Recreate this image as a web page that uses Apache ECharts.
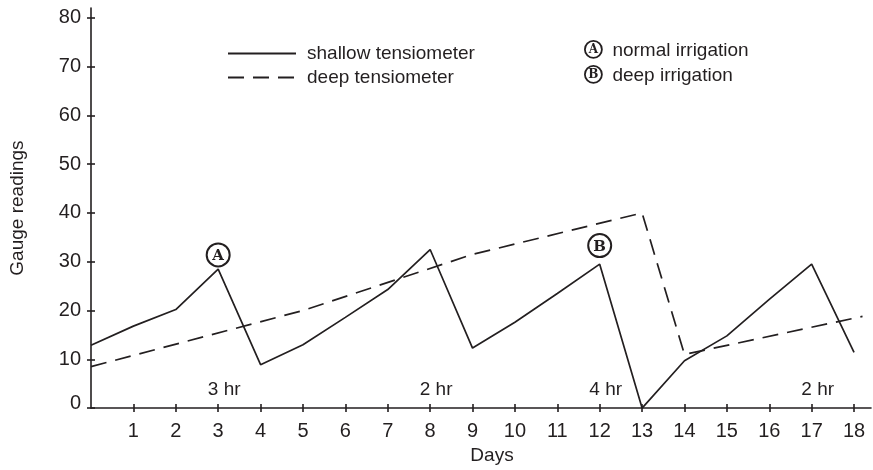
<!DOCTYPE html>
<html>
<head>
<meta charset="utf-8">
<script src="https://cdn.jsdelivr.net/npm/echarts@6/dist/echarts.min.js"></script>
<style>
html, body { margin: 0; padding: 0; background: #fff; }
#chart { width: 873px; height: 470px; }
</style>
</head>
<body>
<div id="chart"></div>
<script>
// data
var days = [0, 1, 2, 3, 4, 5, 6, 7, 8, 9, 10, 11, 12, 13, 14, 15, 16, 17, 18];
var shallowValues = [12.9, 16.8, 20.2, 28.5, 8.9, 13, 18.6, 24.3, 32.5, 12.3, 17.6, 23.5, 29.5, 0, 9.7, 14.8, 22.3, 29.5, 11.4];
var deepDays = [0, 5, 9, 13, 14, 18.2];
var deepValues = [8.5, 20, 31.5, 40, 11, 18.8];
var xTicks = [1, 2, 3, 4, 5, 6, 7, 8, 9, 10, 11, 12, 13, 14, 15, 16, 17, 18];
var yTicks = [0, 10, 20, 30, 40, 50, 60, 70, 80];
var hourDays = [3, 8, 12, 17];
var hourValues = [3.7, 3.7, 3.7, 3.7];
var hourLabels = ['3 hr', '2 hr', '4 hr', '2 hr'];
var markerDays = [3, 12];
var markerValues = [31.4, 33.3];
var markerLetters = ['A', 'B'];
var markerNames = ['normal irrigation', 'deep irrigation'];

var ink = '#231f20';
var font = 'Liberation Sans';
var letterFont = 'DejaVu Serif';

function pairs(xs, ys) {
    var out = [];
    for (var i = 0; i < xs.length; i++) out.push([xs[i], ys[i]]);
    return out;
}

var myChart = echarts.init(document.getElementById('chart'));

// two copies of each axis so the ticks cross the axis line
function xAxisOf(inside) {
    return {
        type: 'value', min: 0, max: 18.4, position: 'bottom',
        splitLine: { show: false },
        axisLine: { show: !inside, lineStyle: { color: ink, width: 1.6 } },
        axisTick: { show: true, inside: inside, length: 4, customValues: xTicks, lineStyle: { color: ink, width: 1.6 } },
        axisLabel: { show: !inside, customValues: xTicks, margin: 13, color: ink, fontFamily: font, fontSize: 20 },
        name: inside ? '' : 'Days',
        nameLocation: 'middle',
        nameGap: 37,
        nameTextStyle: { color: ink, fontFamily: font, fontSize: 19, padding: [0, 0, 0, 22] }
    };
}
function yAxisOf(inside) {
    return {
        type: 'value', min: 0, max: 82, position: 'left',
        splitLine: { show: false },
        axisLine: { show: !inside, lineStyle: { color: ink, width: 1.6 } },
        axisTick: { show: true, inside: inside, length: 4, customValues: yTicks, lineStyle: { color: ink, width: 1.6 } },
        axisLabel: {
            show: !inside, customValues: yTicks, margin: 10, color: ink, fontFamily: font, fontSize: 20,
            // the 0 sits a little high in the original
            formatter: function (v) { return v === 0 ? '{z|0}' : String(v); },
            rich: { z: { color: ink, fontFamily: font, fontSize: 20, padding: [0, 0, 10, 0] } }
        },
        name: inside ? '' : 'Gauge readings',
        nameLocation: 'middle',
        nameGap: 64,
        nameTextStyle: { color: ink, fontFamily: font, fontSize: 19 }
    };
}

option = {
    animation: false,
    backgroundColor: '#fff',
    grid: { left: 91, right: 2, top: 8, bottom: 59, containLabel: false },
    xAxis: [xAxisOf(false), xAxisOf(true)],
    yAxis: [yAxisOf(false), yAxisOf(true)],
    legend: {
        data: ['shallow tensiometer', 'deep tensiometer'],
        orient: 'vertical',
        left: 222,
        top: 39,
        itemWidth: 68,
        itemHeight: 14,
        itemGap: 5,
        selectedMode: false,
        itemStyle: { opacity: 0 },
        textStyle: { color: ink, fontFamily: font, fontSize: 19, padding: [0, 0, 0, 6] }
    },
    graphic: [
        // A / B key, top right
        {
            type: 'group', left: 584, top: 40,
            children: [
                { type: 'circle', shape: { cx: 9, cy: 9, r: 8.5 }, style: { fill: '#fff', stroke: ink, lineWidth: 1.8 } },
                { type: 'text', x: 9, y: 9.5, style: { text: markerLetters[0], fill: ink, font: 'bold 12px "' + letterFont + '"', align: 'center', verticalAlign: 'middle' } },
                { type: 'text', x: 28, y: 10, style: { text: markerNames[0], fill: ink, font: '19px "Liberation Sans"', verticalAlign: 'middle' } },
                { type: 'circle', shape: { cx: 9, cy: 34, r: 8.5 }, style: { fill: '#fff', stroke: ink, lineWidth: 1.8 } },
                { type: 'text', x: 9, y: 34.5, style: { text: markerLetters[1], fill: ink, font: 'bold 12px "' + letterFont + '"', align: 'center', verticalAlign: 'middle' } },
                { type: 'text', x: 28, y: 35, style: { text: markerNames[1], fill: ink, font: '19px "Liberation Sans"', verticalAlign: 'middle' } }
            ]
        }
    ],
    series: [
        {
            name: 'shallow tensiometer',
            type: 'line',
            data: pairs(days, shallowValues),
            symbol: 'none',
            lineStyle: { color: ink, width: 1.7 },
            itemStyle: { color: ink },
            z: 3
        },
        {
            name: 'deep tensiometer',
            type: 'line',
            data: pairs(deepDays, deepValues),
            symbol: 'none',
            lineStyle: { color: ink, width: 1.7, type: [16, 9] },
            itemStyle: { color: ink },
            z: 2
        },
        {
            name: 'hours',
            type: 'scatter',
            data: pairs(hourDays, hourValues),
            symbolSize: 1,
            itemStyle: { color: 'transparent', opacity: 1 },
            silent: true,
            label: {
                show: true, position: 'inside', offset: [6, 0],
                formatter: function (p) { return hourLabels[p.dataIndex]; },
                color: ink, fontFamily: font, fontSize: 19
            }
        },
        {
            name: 'irrigation',
            type: 'scatter',
            data: pairs(markerDays, markerValues),
            symbol: 'circle',
            symbolSize: 23,
            itemStyle: { color: '#fff', borderColor: ink, borderWidth: 2, opacity: 1 },
            silent: true,
            z: 4,
            label: {
                show: true, position: 'inside', offset: [0, 1],
                formatter: function (p) { return markerLetters[p.dataIndex]; },
                color: ink, fontFamily: letterFont, fontWeight: 'bold', fontSize: 15
            }
        }
    ]
};

myChart.setOption(option);
</script>
</body>
</html>
